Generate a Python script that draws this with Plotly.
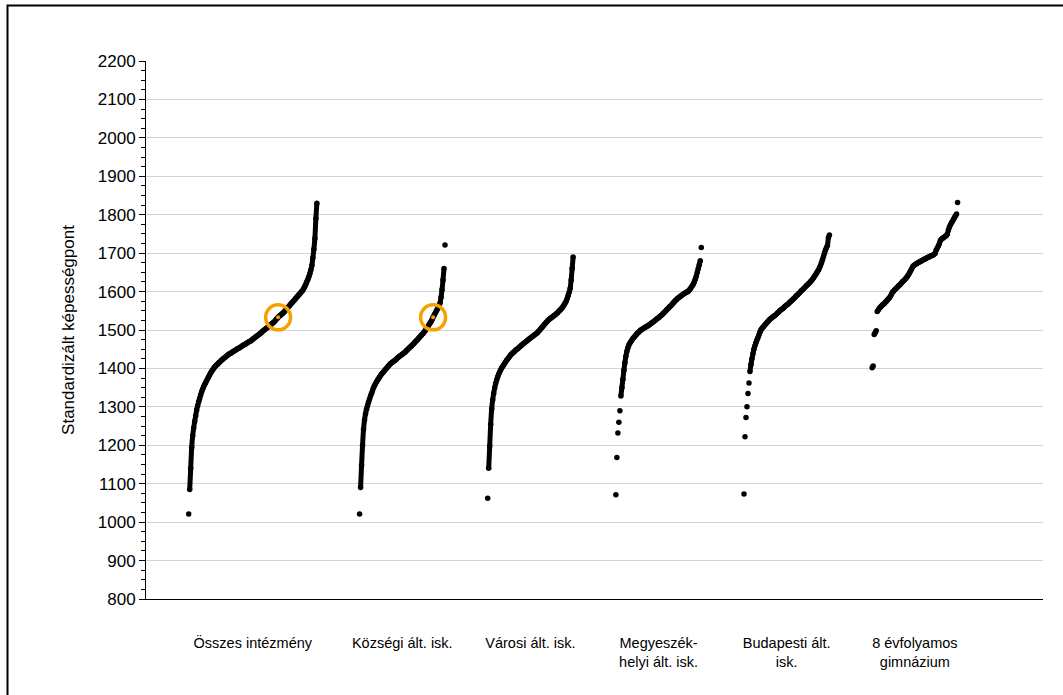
import plotly.graph_objects as go

# ---------------- data ----------------
categories = ["Összes intézmény", "Községi ált. isk.", "Városi ált. isk.",
              "Megyeszék-<br>helyi ált. isk.", "Budapesti ált.<br>isk.",
              "8 évfolyamos<br>gimnázium"]

osszes = [1021, 1085, 1140, 1195, 1225, 1245, 1262, 1277, 1292, 1303,
          1313, 1322, 1331, 1339, 1346, 1352, 1358, 1363, 1368, 1373,
          1378, 1383, 1388, 1392, 1396, 1400, 1403, 1406, 1409, 1411,
          1414, 1416, 1419, 1421, 1423, 1426, 1428, 1430, 1432, 1434,
          1436, 1438, 1439, 1441, 1443, 1444, 1446, 1447, 1449, 1451,
          1452, 1454, 1455, 1457, 1459, 1460, 1462, 1463, 1465, 1467,
          1468, 1470, 1471, 1473, 1475, 1477, 1479, 1481, 1483, 1485,
          1487, 1489, 1491, 1493, 1496, 1498, 1500, 1502, 1504, 1506,
          1508, 1511, 1513, 1515, 1517, 1519, 1521, 1524, 1527, 1530,
          1533, 1536, 1538, 1540, 1542, 1544, 1547, 1550, 1553, 1556,
          1559, 1562, 1565, 1568, 1571, 1574, 1577, 1580, 1583, 1586,
          1589, 1592, 1595, 1598, 1601, 1604, 1609, 1614, 1620, 1626,
          1632, 1639, 1647, 1657, 1668, 1688, 1710, 1738, 1790, 1830]

kozsegi = [1021, 1090, 1148, 1200, 1242, 1266, 1282, 1294, 1303, 1312,
           1320, 1328, 1335, 1342, 1350, 1355, 1360, 1365, 1369, 1373,
           1377, 1381, 1385, 1388, 1391, 1394, 1397, 1400, 1403, 1406,
           1409, 1412, 1414, 1416, 1418, 1420, 1422, 1424, 1427, 1429,
           1431, 1433, 1435, 1437, 1439, 1441, 1443, 1446, 1448, 1451,
           1453, 1456, 1458, 1461, 1463, 1466, 1469, 1472, 1474, 1477,
           1480, 1483, 1486, 1489, 1491, 1495, 1498, 1502, 1506, 1510,
           1514, 1518, 1522, 1527, 1533, 1538, 1543, 1548, 1553, 1558,
           1564, 1570, 1585, 1605, 1630, 1660, 1721]

varosi = [1062, 1140, 1198, 1255, 1295, 1318, 1335, 1349, 1361, 1370,
          1378, 1385, 1391, 1396, 1401, 1405, 1409, 1413, 1417, 1421,
          1424, 1428, 1431, 1435, 1437, 1440, 1442, 1444, 1447, 1449,
          1451, 1453, 1456, 1458, 1460, 1462, 1465, 1467, 1469, 1471,
          1473, 1475, 1477, 1479, 1481, 1483, 1485, 1487, 1489, 1491,
          1493, 1496, 1499, 1502, 1505, 1508, 1511, 1514, 1517, 1520,
          1523, 1526, 1528, 1530, 1532, 1534, 1536, 1538, 1540, 1542,
          1544, 1547, 1550, 1552, 1555, 1558, 1562, 1566, 1570, 1575,
          1582, 1590, 1598, 1608, 1630, 1660, 1690]

megyeszekhelyi = [1071, 1168, 1232, 1260, 1290, 1328, 1350, 1372, 1395, 1415,
                  1432, 1445, 1454, 1461, 1466, 1470, 1474, 1478, 1481, 1484,
                  1487, 1490, 1493, 1495, 1498, 1500, 1502, 1503, 1505, 1507,
                  1508, 1510, 1511, 1513, 1515, 1517, 1519, 1521, 1523, 1525,
                  1527, 1529, 1531, 1533, 1536, 1538, 1540, 1543, 1545, 1548,
                  1551, 1554, 1556, 1559, 1562, 1564, 1567, 1570, 1573, 1576,
                  1578, 1581, 1583, 1585, 1587, 1589, 1591, 1593, 1595, 1596,
                  1598, 1599, 1601, 1604, 1607, 1611, 1615, 1619, 1625, 1632,
                  1640, 1650, 1660, 1670, 1680, 1715]

budapesti = [1073, 1222, 1272, 1300, 1335, 1362, 1392, 1410, 1425, 1438,
             1450, 1459, 1467, 1474, 1480, 1487, 1494, 1500, 1504, 1507,
             1510, 1513, 1516, 1519, 1522, 1525, 1528, 1530, 1532, 1534,
             1536, 1538, 1540, 1542, 1545, 1547, 1550, 1552, 1554, 1556,
             1558, 1561, 1563, 1565, 1567, 1569, 1572, 1574, 1577, 1579,
             1582, 1584, 1587, 1590, 1592, 1595, 1597, 1600, 1603, 1605,
             1608, 1610, 1613, 1616, 1618, 1621, 1623, 1626, 1629, 1632,
             1636, 1640, 1644, 1648, 1652, 1656, 1662, 1668, 1675, 1683,
             1691, 1700, 1708, 1714, 1720, 1740, 1747]

gimnazium8 = [1402, 1406, 1488, 1493, 1498, 1548, 1552, 1556, 1559, 1562,
              1565, 1567, 1569, 1572, 1575, 1578, 1581, 1584, 1588, 1593,
              1598, 1601, 1604, 1607, 1609, 1612, 1615, 1617, 1620, 1623,
              1626, 1628, 1631, 1634, 1637, 1641, 1645, 1650, 1655, 1660,
              1665, 1668, 1670, 1672, 1673, 1675, 1676, 1678, 1679, 1681,
              1682, 1684, 1685, 1686, 1688, 1689, 1690, 1692, 1693, 1694,
              1695, 1697, 1700, 1708, 1713, 1718, 1724, 1732, 1736, 1738,
              1740, 1742, 1744, 1746, 1750, 1760, 1768, 1774, 1779, 1783,
              1788, 1793, 1797, 1802, 1832]

series = [osszes, kozsegi, varosi, megyeszekhelyi, budapesti, gimnazium8]

# the highlighted school: its score, and the groups it belongs to
highlight_score = 1533
highlight_groups = [0, 1]

# ---------------- layout / style ----------------
band_start = [1/3, 2 - 1/3, 3 - 1/3, 4 - 1/3, 5 - 1/3, 6 - 1/3]
band_end = [4/3, 2 + 1/3, 3 + 1/3, 4 + 1/3, 5 + 1/3, 6 + 1/3]
connect_gap = [60, 60, 60, 25, 22, 22]   # join neighbouring dots closer than this

FONT = "Liberation Sans, Arial, sans-serif"
ORANGE = "#F5A100"
DOT = 5.5

fig = go.Figure()

for k, vals in enumerate(series):
    n = len(vals)
    xs = [band_start[k] + (band_end[k] - band_start[k]) * i / (n - 1) for i in range(n)]
    # continuous stroke where dots are dense
    lx, ly = [], []
    for i in range(n):
        if i > 0 and abs(vals[i] - vals[i - 1]) > connect_gap[k]:
            lx.append(None)
            ly.append(None)
        lx.append(xs[i])
        ly.append(vals[i])
    fig.add_trace(go.Scatter(x=lx, y=ly, mode="lines", connectgaps=False,
                             line=dict(color="black", width=5, shape="spline",
                                       smoothing=0.6),
                             hoverinfo="skip", showlegend=False))
    fig.add_trace(go.Scatter(x=xs, y=vals, mode="markers",
                             marker=dict(color="black", size=DOT, line=dict(width=0)),
                             showlegend=False))
    if k in highlight_groups:
        j = min(range(n), key=lambda i: abs(vals[i] - highlight_score))
        fig.add_trace(go.Scatter(x=[xs[j]], y=[vals[j]], mode="markers",
                                 marker=dict(color=ORANGE, size=4),
                                 showlegend=False))
        fig.add_trace(go.Scatter(x=[xs[j]], y=[vals[j]], mode="markers",
                                 marker=dict(symbol="circle-open", size=25,
                                             color=ORANGE,
                                             line=dict(color=ORANGE, width=3.5)),
                                 showlegend=False))

tick_pos = [(a + b) / 2 for a, b in zip(band_start, band_end)]

fig.update_layout(
    width=1063, height=695,
    margin=dict(l=146, r=20, t=61, b=96, pad=0),
    paper_bgcolor="white", plot_bgcolor="white",
    font=dict(family=FONT, color="black"),
    showlegend=False,
    xaxis=dict(range=[0, 7], showgrid=False, zeroline=False,
               showline=True, linecolor="black", linewidth=1,
               tickmode="array", tickvals=tick_pos, ticktext=categories,
               ticks="", ticklabelstandoff=31,
               tickfont=dict(size=14.5, family=FONT, color="black")),
    yaxis=dict(range=[800, 2200], tick0=800, dtick=100,
               showgrid=True, gridcolor="#D4D4D4", gridwidth=1,
               zeroline=False, showline=True, linecolor="black", linewidth=1,
               ticks="outside", ticklen=6, tickcolor="black",
               minor=dict(dtick=25, ticks="outside", ticklen=4,
                          tickcolor="black", showgrid=False),
               tickfont=dict(size=17, family=FONT, color="black"),
               title=dict(text="Standardizált képességpont",
                          font=dict(size=17, family=FONT, color="black"),
                          standoff=18)),
    shapes=[dict(type="rect", xref="paper", yref="paper",
                 x0=(7.5 - 146) / 897, x1=(1075 - 146) / 897,
                 y0=(599 - 710) / 538, y1=(599 - 5.5) / 538,
                 line=dict(color="black", width=2), fillcolor="rgba(0,0,0,0)",
                 layer="below")],
)

fig.write_html("out.html", config={"displayModeBar": False},
               post_script="document.body.style.margin='0';")
